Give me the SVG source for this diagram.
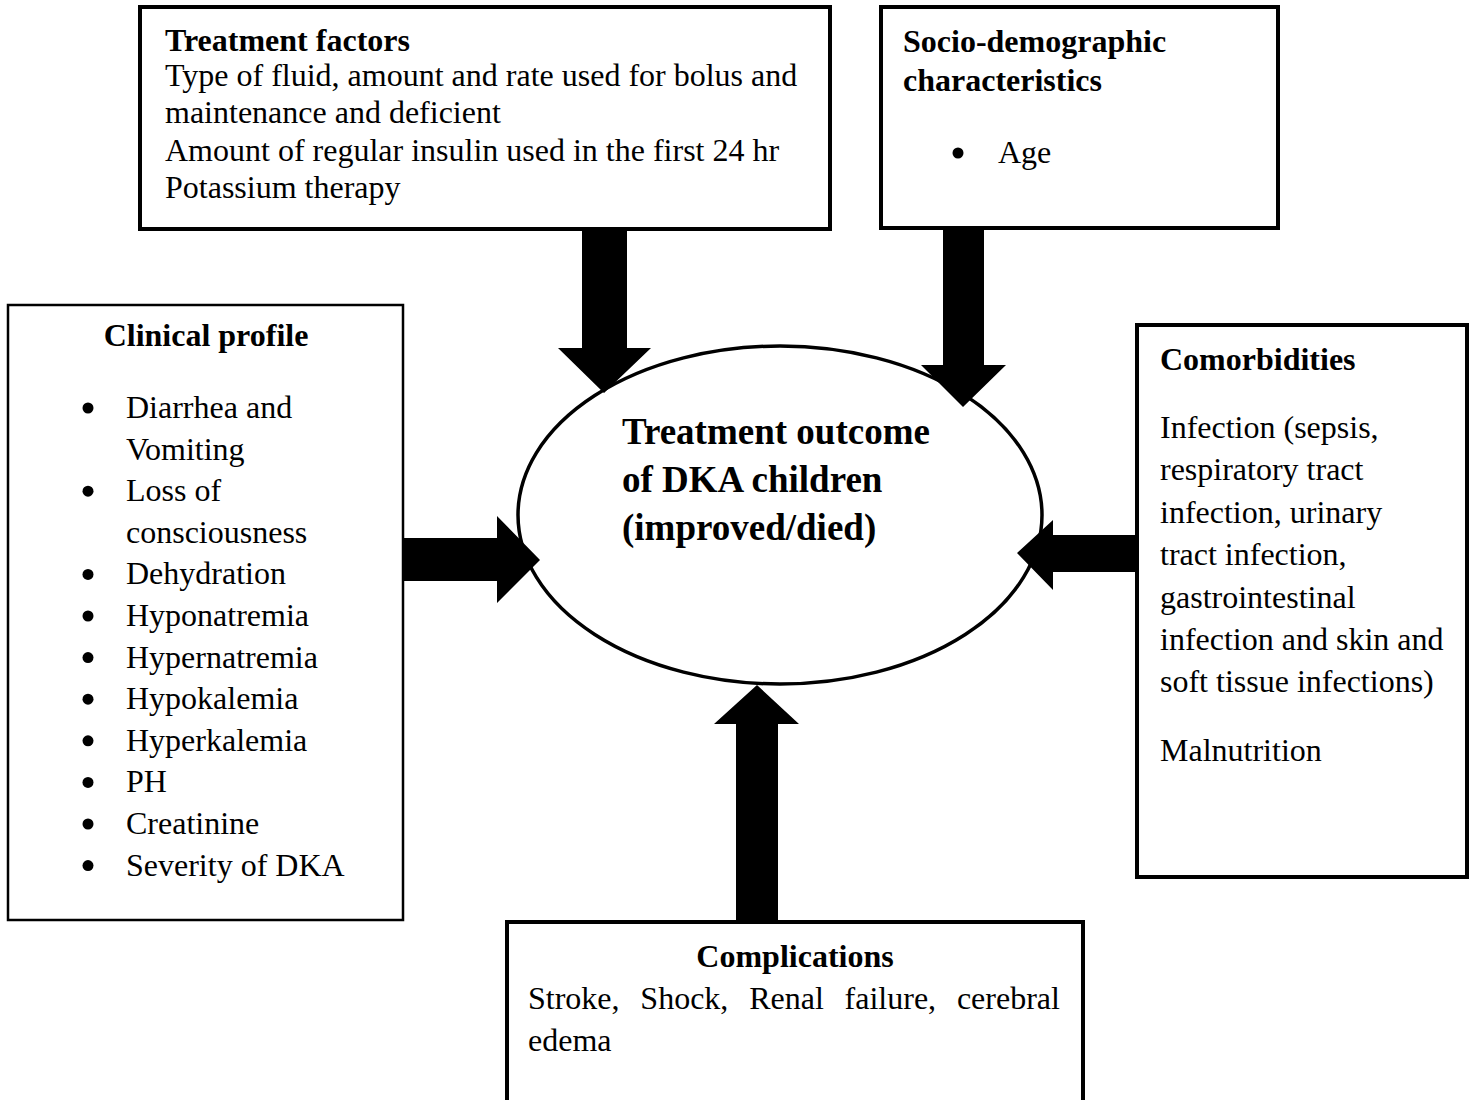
<svg xmlns="http://www.w3.org/2000/svg" width="1471" height="1100" viewBox="0 0 1471 1100">
<style>
.box{fill:#fff;stroke:#000;stroke-width:4}
.thin{stroke-width:2.5}
.t{font-family:"Liberation Serif","Times New Roman",serif;font-size:32px;fill:#000}
.b{font-weight:bold}
.c{text-anchor:middle}
.big{font-size:37px;font-weight:bold}
.arrow{fill:#000;stroke:none}
.dot{fill:#000}
</style>
<defs>
<circle id="bullet" r="5.5" class="dot"/>
</defs>
<rect width="1471" height="1100" fill="#fff"/>
<g id="outcome">
<ellipse cx="780" cy="515" rx="262" ry="169" fill="#fff" stroke="#000" stroke-width="3.5"/>
<text class="t big" x="622" y="444">Treatment outcome</text>
<text class="t big" x="622" y="492">of DKA children</text>
<text class="t big" x="622" y="540">(improved/died)</text>
</g>
<g id="treatment-factors">
<rect class="box" x="140" y="7" width="690" height="222"/>
<text class="t b" x="165" y="51">Treatment factors</text>
<text class="t" x="165" y="86">Type of fluid, amount and rate used for bolus and</text>
<text class="t" x="165" y="123">maintenance and deficient</text>
<text class="t" x="165" y="161">Amount of regular insulin used in the first 24 hr</text>
<text class="t" x="165" y="198">Potassium therapy</text>
</g>
<g id="socio-demographic">
<rect class="box" x="881" y="7" width="397" height="221"/>
<text class="t b" x="903" y="52">Socio-demographic</text>
<text class="t b" x="903" y="91">characteristics</text>
<use href="#bullet" x="958" y="153"/>
<text class="t" x="998" y="163">Age</text>
</g>
<g id="clinical-profile">
<rect class="box thin" x="8" y="305" width="395" height="615"/>
<text class="t b c" x="206" y="346">Clinical profile</text>
<use href="#bullet" x="88" y="408"/>
<use href="#bullet" x="88" y="491.2"/>
<use href="#bullet" x="88" y="574.4"/>
<use href="#bullet" x="88" y="616"/>
<use href="#bullet" x="88" y="657.6"/>
<use href="#bullet" x="88" y="699.2"/>
<use href="#bullet" x="88" y="740.8"/>
<use href="#bullet" x="88" y="782.4"/>
<use href="#bullet" x="88" y="824"/>
<use href="#bullet" x="88" y="865.6"/>
<g class="t">
<text x="126" y="418">Diarrhea and</text>
<text x="126" y="459.6">Vomiting</text>
<text x="126" y="501.2">Loss of</text>
<text x="126" y="542.8">consciousness</text>
<text x="126" y="584.4">Dehydration</text>
<text x="126" y="626">Hyponatremia</text>
<text x="126" y="667.6">Hypernatremia</text>
<text x="126" y="709.2">Hypokalemia</text>
<text x="126" y="750.8">Hyperkalemia</text>
<text x="126" y="792.4">PH</text>
<text x="126" y="834">Creatinine</text>
<text x="126" y="875.6">Severity of DKA</text>
</g>
</g>
<g id="comorbidities">
<rect class="box" x="1137" y="325" width="330" height="552"/>
<text class="t b" x="1160" y="370">Comorbidities</text>
<g class="t">
<text x="1160" y="438">Infection (sepsis,</text>
<text x="1160" y="480">respiratory tract</text>
<text x="1160" y="523">infection, urinary</text>
<text x="1160" y="565">tract infection,</text>
<text x="1160" y="608">gastrointestinal</text>
<text x="1160" y="650">infection and skin and</text>
<text x="1160" y="692">soft tissue infections)</text>
<text x="1160" y="761">Malnutrition</text>
</g>
</g>
<g id="complications">
<rect class="box" x="507" y="922" width="576" height="190"/>
<text class="t b c" x="795" y="967">Complications</text>
<text class="t" x="528" y="1009" word-spacing="12.8">Stroke, Shock, Renal failure, cerebral</text>
<text class="t" x="528" y="1051">edema</text>
</g>
<g id="connectors">
<polygon class="arrow" points="582,229 627,229 627,348 651,348 604,393 558,348 582,348"/>
<polygon class="arrow" points="943,228 984,228 984,365 1006,365 963,407 921,365 943,365"/>
<polygon class="arrow" points="403,538 497,538 497,516 540,560 497,603 497,581 403,581"/>
<polygon class="arrow" points="1137,535 1053,535 1053,520 1017,553 1053,590 1053,572 1137,572"/>
<polygon class="arrow" points="736,922 736,724 714,724 757,685 799,724 778,724 778,922"/>
</g>
</svg>
